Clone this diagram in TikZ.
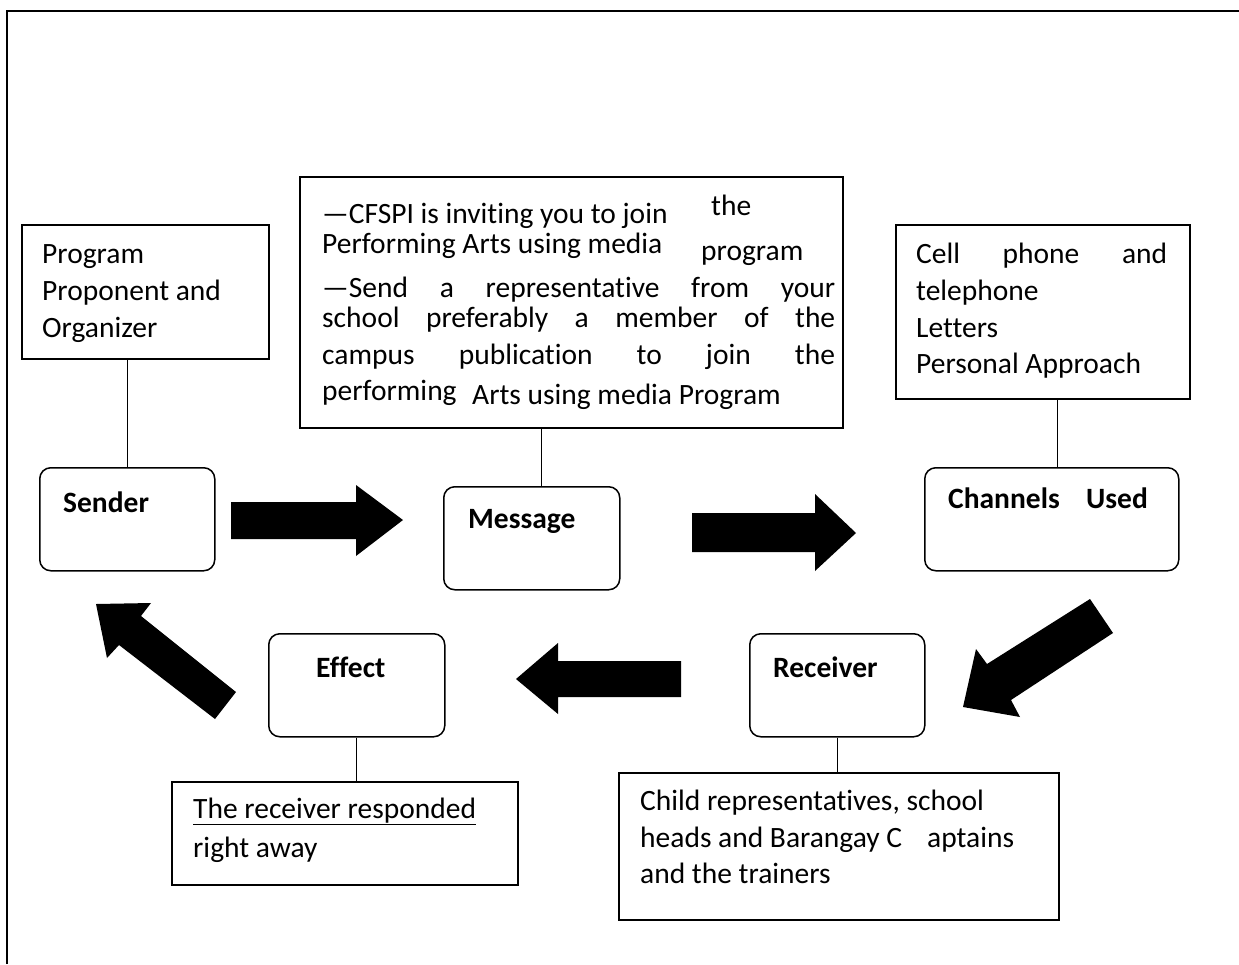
\documentclass[tikz,border=0pt]{standalone}
\usepackage{fontspec}
\setmainfont{Carlito}[Ligatures={NoCommon}]
\begin{document}
\begin{tikzpicture}[x=1pt,y=-1pt,
  font=\fontsize{29.5}{35}\selectfont,
  txtbox/.style={draw, line width=1.5pt, anchor=north west, inner sep=0pt},
  rbox/.style={draw, line width=1.5pt, rounded corners=11pt, anchor=north west, inner sep=0pt, minimum height=103pt},
  lbl/.style={anchor=base west, inner sep=0pt},
  blbl/.style={anchor=base west, inner sep=0pt, font=\fontsize{29.5}{35}\selectfont\bfseries},
  link/.style={line width=1.3pt},
  blockarrow/.style={fill=black}]
\useasboundingbox (0,0) rectangle (1239,964);
% outer frame (cut by the page edges)
\draw[line width=2pt] (7,964) -- (7,11) -- (1239,11);

% text boxes
\node[txtbox, minimum width=247pt, minimum height=134pt] (sendtxt) at (21,224) {};
\node[txtbox, minimum width=543pt, minimum height=251pt] (msgtxt) at (299,176) {};
\node[txtbox, minimum width=294pt, minimum height=174pt] (chantxt) at (895,224) {};
\node[txtbox, minimum width=346pt, minimum height=103pt] (efftxt) at (171,781) {};
\node[txtbox, minimum width=440pt, minimum height=147pt] (rectxt) at (618,772) {};

% rounded boxes
\node[rbox, minimum width=175pt] (sender) at (39,467) {};
\node[rbox, minimum width=176pt] (msg) at (443,486) {};
\node[rbox, minimum width=254pt] (chan) at (924,467) {};
\node[rbox, minimum width=176pt] (eff) at (268,633) {};
\node[rbox, minimum width=175pt] (rec) at (749,633) {};

% bold labels
\node[blbl] (senderlbl) at (63,512) {Sender};
\node[blbl] (msglbl) at (468,528) {Message};
\node[blbl] (chanlbl) at (948,508) {Channels};
\node[blbl] (usedlbl) at (1086,508) {Used};
\node[blbl] (efflbl) at (316,677) {Effect};
\node[blbl] (reclbl) at (773,677) {Receiver};

% sender text
\node[lbl] (s1) at (42,263) {Program};
\node[lbl] (s2) at (42,300) {Proponent and};
\node[lbl] (s3) at (42,337) {Organizer};

% message text
\node[lbl] (m1) at (322,223) {—CFSPI is inviting you to join};
\node[lbl] (m1b) at (711,215) {the};
\node[lbl] (m2) at (322,253) {Performing Arts using media};
\node[lbl] (m2b) at (701,260) {program};
\node[lbl] (m3) at (322,297) {\makebox[513pt][s]{—Send a representative from your}};
\node[lbl] (m4) at (322,327) {\makebox[513pt][s]{school preferably a member of the}};
\node[lbl] (m5) at (322,364) {\makebox[513pt][s]{campus publication to join the}};
\node[lbl] (m6) at (322,400) {performing};
\node[lbl] (m6b) at (472,404) {Arts using media Program};

% channels text
\node[lbl] (c1) at (916,263) {\makebox[251pt][s]{Cell phone and}};
\node[lbl] (c2) at (916,300) {telephone};
\node[lbl] (c3) at (916,337) {Letters};
\node[lbl] (c4) at (916,373) {Personal Approach};

% effect text
\node[lbl] (e1) at (193,818) {\underline{The receiver responded}};
\node[lbl] (e2) at (193,857) {right away};

% receiver text
\node[lbl] (r1) at (640,810) {Child representatives, school};
\node[lbl] (r2) at (640,847) {heads and Barangay C};
\node[lbl] (r2b) at (927,847) {aptains};
\node[lbl] (r3) at (640,883) {and the trainers};

% connectors
\draw[link] (sender.north) -- (sender.north |- sendtxt.south);
\draw[link] ([xshift=10pt]msg.north) -- ([xshift=10pt]msg.north |- msgtxt.south);
\draw[link] ([xshift=6pt]chan.north) -- ([xshift=6pt]chan.north |- chantxt.south);
\draw[link] (eff.south) -- (eff.south |- efftxt.north);
\draw[link] (rec.south) -- (rec.south |- rectxt.north);

% block arrows
\fill[blockarrow] (231,502) -- (356,502) -- (356,485) -- (403,520) -- (356,556) -- (356,539) -- (231,539) -- cycle;
\fill[blockarrow] (692,513) -- (815,513) -- (815,494) -- (856,533) -- (815,571) -- (815,552) -- (692,552) -- cycle;
\fill[blockarrow] (1090,599) -- (1113,633) -- (1011,700) -- (1020,717) -- (963,707) -- (976,649) -- (987,664) -- cycle;
\fill[blockarrow] (681,661) -- (558,661) -- (558,643) -- (516,679) -- (558,714) -- (558,697) -- (681,697) -- cycle;
\fill[blockarrow] (96,604) -- (151,603) -- (141,616) -- (236,692) -- (215,719) -- (119,645) -- (107,658) -- cycle;
\end{tikzpicture}
\end{document}
